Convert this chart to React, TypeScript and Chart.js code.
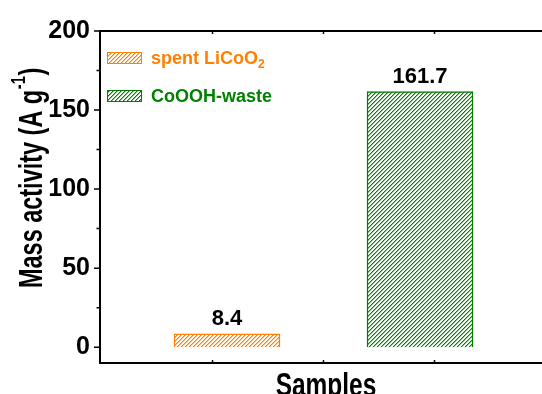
import React, { useEffect, useRef } from "react";
import { Chart, registerables } from "chart.js";

Chart.register(...registerables);

const categories = ["spent LiCoO2", "CoOOH-waste"];
const massActivity = [8.4, 161.7];
const valueLabels = ["8.4", "161.7"];
const yMajorTicks = [0, 50, 100, 150, 200];
const yMinorTicks = [25, 75, 125, 175];
const xTickValues = [0.925, 1.5, 2.075];

const ORANGE = "#FF8000";
const GREEN = "#008000";
const FONT = '"Liberation Sans", Arial, sans-serif';

function makeHatch(ctx: CanvasRenderingContext2D, color: string) {
  const c = document.createElement("canvas");
  c.width = 4;
  c.height = 4;
  const g = c.getContext("2d")!;
  g.fillStyle = "#ffffff";
  g.fillRect(0, 0, 4, 4);
  g.fillStyle = color;
  for (let y = 0; y < 4; y++) {
    g.globalAlpha = 1;
    g.fillRect((3 - y + 4) % 4, y, 1, 1);
    g.globalAlpha = 0.45;
    g.fillRect((4 - y + 4) % 4, y, 1, 1);
  }
  g.globalAlpha = 1;
  return ctx.createPattern(c, "repeat")!;
}

export default function App() {
  const ref = useRef<HTMLCanvasElement | null>(null);

  useEffect(() => {
    document.body.style.margin = "0";
    const canvas = ref.current!;
    const ctx = canvas.getContext("2d")!;
    const orangeHatch = makeHatch(ctx, ORANGE);
    const greenHatch = makeHatch(ctx, GREEN);
    const patterns = [orangeHatch, greenHatch];
    const colors = [ORANGE, GREEN];

    const decor = {
      id: "decor",
      afterDraw(chart: any) {
        const c: CanvasRenderingContext2D = chart.ctx;
        const area = chart.chartArea;
        const ys = chart.scales.y;
        const xs = chart.scales.x;
        c.save();
        // top frame line
        c.strokeStyle = "#000";
        c.lineWidth = 2;
        c.beginPath();
        c.moveTo(area.left - 1, area.top);
        c.lineTo(chart.width, area.top);
        c.stroke();
        // y ticks
        c.lineWidth = 1.5;
        c.beginPath();
        yMajorTicks.forEach((v) => {
          const p = ys.getPixelForValue(v);
          c.moveTo(area.left - 6, p);
          c.lineTo(area.left, p);
        });
        yMinorTicks.forEach((v) => {
          const p = ys.getPixelForValue(v);
          c.moveTo(area.left - 3.5, p);
          c.lineTo(area.left, p);
        });
        // x ticks (inward, bottom & top)
        xTickValues.forEach((v) => {
          const p = xs.getPixelForValue(v);
          c.moveTo(p, area.bottom);
          c.lineTo(p, area.bottom - 3);
          c.moveTo(p, area.top);
          c.lineTo(p, area.top + 3);
        });
        c.stroke();

        // value labels
        const meta = chart.getDatasetMeta(0);
        c.fillStyle = "#000";
        c.font = `bold 22px ${FONT}`;
        c.textAlign = "center";
        c.textBaseline = "alphabetic";
        meta.data.forEach((el: any, i: number) => {
          c.fillText(valueLabels[i], el.x, el.y - 9);
        });

        // legend
        const legendRows = [
          { y: 52, main: "spent LiCoO", sub: "2" },
          { y: 90, main: "CoOOH-waste", sub: "" },
        ];
        legendRows.forEach((row, i) => {
          c.fillStyle = patterns[i];
          c.fillRect(107, row.y, 35, 12);
          c.strokeStyle = colors[i];
          c.lineWidth = 1;
          c.strokeRect(107.5, row.y + 0.5, 34, 11);
          c.fillStyle = colors[i];
          c.font = `bold 18px ${FONT}`;
          c.textAlign = "left";
          c.fillText(row.main, 151, row.y + 12);
          if (row.sub) {
            const w = c.measureText(row.main).width;
            c.font = `bold 12px ${FONT}`;
            c.fillText(row.sub, 151 + w, row.y + 16);
          }
        });

        // y axis title (condensed, rotated)
        c.fillStyle = "#000";
        c.save();
        c.translate(42, 288);
        c.rotate(-Math.PI / 2);
        c.scale(0.69, 1);
        c.textAlign = "left";
        c.font = `bold 34px ${FONT}`;
        const t1 = "Mass activity (A g";
        c.fillText(t1, 0, 0);
        let x = c.measureText(t1).width;
        c.font = `bold 21px ${FONT}`;
        c.fillText("-1", x + 1, -17);
        x += c.measureText("-1").width + 2;
        c.font = `bold 34px ${FONT}`;
        c.fillText(")", x, 0);
        c.restore();

        // x axis title
        c.save();
        c.translate(326, 396);
        c.scale(0.72, 1);
        c.textAlign = "center";
        c.font = `bold 34px ${FONT}`;
        c.fillText("Samples", 0, 0);
        c.restore();

        c.restore();
      },
    };

    const chart = new Chart(canvas, {
      type: "bar",
      data: {
        labels: categories,
        datasets: [
          {
            data: massActivity.map((v, i) => ({ x: i + 1, y: v })) as any,
            backgroundColor: patterns as any,
            borderColor: colors,
            borderWidth: 1.5,
            barThickness: 106,
          },
        ],
      },
      options: {
        animation: false,
        responsive: false,
        layout: { padding: { left: 0, top: 31, right: 0, bottom: 0 } },
        plugins: {
          legend: { display: false },
          tooltip: { enabled: false },
        },
        scales: {
          x: {
            type: "linear",
            min: 0.342,
            max: 2.632,
            offset: false,
            grid: { display: false, drawTicks: false, offset: false },
            ticks: { display: false },
            border: { display: true, width: 2, color: "#000" },
            afterBuildTicks: (s: any) => {
              s.ticks = xTickValues.map((v) => ({ value: v }));
            },
            afterFit: (s: any) => {
              s.height = 31;
            },
          },
          y: {
            min: -10,
            max: 200,
            grid: { display: false, drawTicks: false },
            border: { display: true, width: 2, color: "#000" },
            ticks: {
              padding: 10,
              color: "#000",
              font: { family: FONT, size: 25, weight: "bold" },
            },
            afterBuildTicks: (s: any) => {
              s.ticks = yMajorTicks.map((v) => ({ value: v }));
            },
            afterFit: (s: any) => {
              s.width = 100;
            },
          },
        },
      },
      plugins: [decor],
    });

    return () => chart.destroy();
  }, []);

  return (
    <div style={{ width: 542, height: 394 }}>
      <canvas ref={ref} width={542} height={394} style={{ display: "block" }} />
    </div>
  );
}
